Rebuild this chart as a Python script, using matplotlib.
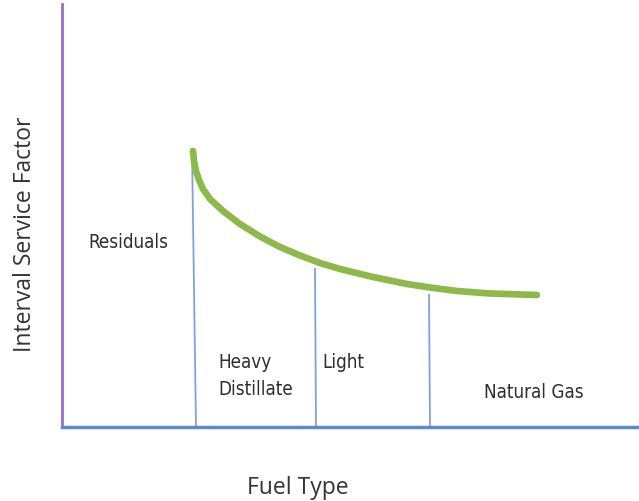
import matplotlib.pyplot as plt

# curve of interval service factor vs fuel type (diagram units)
curve_x = [131, 132, 134, 137, 141, 148, 161, 178, 198, 218, 238, 258, 278,
           311, 345, 368, 395, 428, 475]
curve_y = [276, 266, 256, 247, 238, 228, 216, 203, 190.5, 180, 171.5, 164,
           158, 150, 143, 139.5, 136, 133.5, 132]

# boundaries between fuel types: (x_top, y_top, x_bottom)
divider_x_top = [130, 253, 367]
divider_y_top = [278, 158, 132]
divider_x_bottom = [134, 254, 368]

fuel_labels = ["Residuals", "Heavy\nDistillate", "Light", "Natural Gas"]
label_x = [26, 156, 260, 422]
label_y = [186, 52, 66, 36]

NARROW = ["DejaVu Sans", "Liberation Sans"]

fig = plt.figure(figsize=(6.39, 5.02), dpi=100)
ax = fig.add_axes([62 / 639, 1 - 428 / 502, 1 - 62 / 639, 423 / 502])
ax.set_xlim(0, 577)
ax.set_ylim(0, 423)

for xt, yt, xb in zip(divider_x_top, divider_y_top, divider_x_bottom):
    ax.plot([xt, xb], [yt, 0], color="#7FA3D6", lw=1.3, zorder=2)

ax.plot(curve_x, curve_y, color="#8DB84A", lw=4.8, solid_capstyle="round",
        solid_joinstyle="round", zorder=3)

for lab, x, y in zip(fuel_labels, label_x, label_y):
    ax.text(x, y, lab, fontsize=13.5, color="#2E2E2E", family=NARROW,
            fontstretch="condensed", ha="left", va="center", linespacing=1.5)

ax.set_xticks([])
ax.set_yticks([])
for side in ["top", "right"]:
    ax.spines[side].set_visible(False)
ax.spines["left"].set_color("#9B6DCB")
ax.spines["left"].set_linewidth(2)
ax.spines["bottom"].set_color("#5B89CC")
ax.spines["bottom"].set_linewidth(2.5)

fig.text(298 / 639, 1 - 488 / 502, "Fuel Type", fontsize=16.5, color="#333333",
         family=["Open Sans", "DejaVu Sans"], ha="center", va="center")
fig.text(25 / 639, 1 - 234 / 502, "Interval Service Factor", fontsize=16.5,
         color="#333333", family=["Open Sans", "DejaVu Sans"], rotation=90,
         ha="center", va="center")

fig.savefig("out.png", dpi=100)
